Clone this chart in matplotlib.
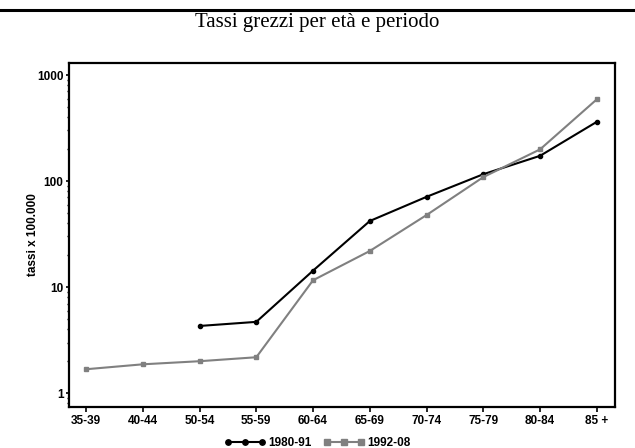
import numpy as np
import matplotlib
matplotlib.use("Agg")
import matplotlib.pyplot as plt
from matplotlib.lines import Line2D
from matplotlib.ticker import FixedLocator, LogLocator, NullFormatter

eta = ["35-39", "40-44", "50-54", "55-59", "60-64", "65-69",
       "70-74", "75-79", "80-84", "85 +"]
tassi_1980_91 = [np.nan, np.nan, 4.3, 4.7, 14.3, 42.0, 71.0, 116.0, 173.0, 362.0]
tassi_1992_08 = [1.68, 1.87, 2.0, 2.18, 11.6, 21.9, 47.8, 109.0, 199.0, 590.0]

plt.rcParams['font.family'] = ['Liberation Sans Narrow', 'Liberation Sans', 'DejaVu Sans']

fig = plt.figure(figsize=(6.35, 4.48), dpi=100)
# axes box: x 69..615 px, y 63..407 px
ax = fig.add_axes([69 / 635, 1 - 407 / 448, 546 / 635, 344 / 448])

x = np.arange(len(eta))
ax.plot(x, tassi_1980_91, color='black', lw=1.5, marker='o', ms=3, label='1980-91')
ax.plot(x, tassi_1992_08, color='#808080', lw=1.5, marker='s', ms=3, label='1992-08')

ax.set_yscale('log')
ax.set_ylim(0.74, 1298)
ax.set_xlim(-0.30, 9.32)

ax.set_xticks(x)
ax.set_xticklabels(eta, fontsize=8.5, fontweight='bold')
ax.yaxis.set_major_locator(FixedLocator([1, 10, 100, 1000]))
ax.set_yticklabels(['1', '10', '100', '1000'], fontsize=8.5, fontweight='bold')
ax.yaxis.set_minor_locator(LogLocator(base=10, subs=np.arange(2, 10)))
ax.yaxis.set_minor_formatter(NullFormatter())
ax.tick_params(axis='x', which='major', length=3.6, width=1.2, pad=2.5, direction='out')
ax.tick_params(axis='y', which='major', length=2.5, width=1.2, pad=1.5, direction='out')
ax.tick_params(axis='y', which='minor', length=1.8, width=1, direction='out')
ax.set_ylabel('tassi x 100.000', fontsize=8.5, fontweight='bold', labelpad=-1.5)

for s in ax.spines.values():
    s.set_linewidth(1.6)

fig.add_artist(Line2D([0, 1], [1 - 10 / 448, 1 - 10 / 448], color='black', lw=2.2))
fig.text(0.5, 1 - 22 / 448, 'Tassi grezzi per età e periodo', ha='center', va='center',
         fontsize=15, family=['Liberation Serif', 'DejaVu Serif'])

fig.legend(loc='center', bbox_to_anchor=(0.5, 1 - 443 / 448), ncol=2, frameon=False,
           prop={'weight': 'bold', 'size': 8.5}, handlelength=3.5, numpoints=3,
           markerscale=1.3, handletextpad=0.2, columnspacing=1.0, borderpad=0)

fig.savefig('out.png', dpi=100)
